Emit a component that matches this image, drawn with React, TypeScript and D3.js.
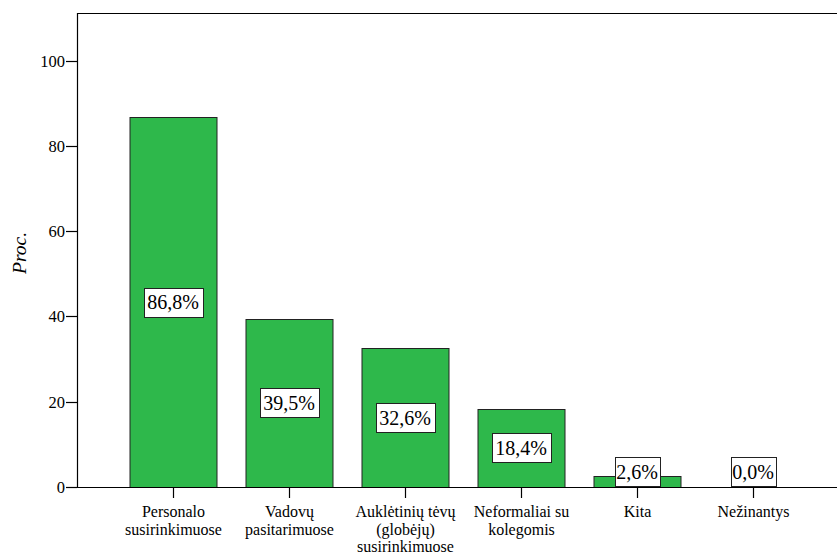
import React from "react";
import * as d3 from "d3";

const categories: string[][] = [
  ["Personalo", "susirinkimuose"],
  ["Vadovų", "pasitarimuose"],
  ["Auklėtinių tėvų", "(globėjų)", "susirinkimuose"],
  ["Neformaliai su", "kolegomis"],
  ["Kita"],
  ["Nežinantys"],
];
const values: number[] = [86.8, 39.5, 32.6, 18.4, 2.6, 0.0];
const yTicks: number[] = [0, 20, 40, 60, 80, 100];
const yTitle = "Proc.";

const W = 837;
const H = 554;
const left = 77;
const top = 13;
const bottom = 487;
const FONT = "'Times New Roman', 'Liberation Serif', Tinos, 'DejaVu Serif', serif";

export default function App() {
  const keys = categories.map((c) => c.join(" "));
  const x = d3
    .scaleBand<string>()
    .domain(keys)
    .range([115, 811])
    .paddingInner(0.25)
    .paddingOuter(0.125);
  const y = d3.scaleLinear().domain([0, 111.2]).range([bottom, top]);
  const boxH = 29;
  const ts: React.CSSProperties = { fontFamily: FONT, fontWeight: 400, fontStyle: "normal" };

  return (
    <svg
      width={W}
      height={H}
      style={{ position: "absolute", left: 0, top: 0, background: "#fff" }}
    >
      <rect x={0} y={0} width={W} height={H} fill="#fff" />
      {values.map((v, i) => {
        const k = keys[i];
        const x0 = x(k)!;
        const yv = y(v);
        return (
          <rect
            key={k}
            x={x0 + 0.5}
            y={Math.round(yv) + 0.5}
            width={x.bandwidth()}
            height={Math.max(0, bottom - Math.round(yv))}
            fill="#2eb84b"
            stroke="#222"
            strokeWidth={1}
          />
        );
      })}
      <line x1={left} x2={W + 20} y1={top + 0.5} y2={top + 0.5} stroke="#000" strokeWidth={1.2} />
      <line x1={left + 0.5} x2={left + 0.5} y1={top} y2={bottom} stroke="#000" strokeWidth={1.2} />
      <line x1={left} x2={W + 20} y1={bottom + 0.5} y2={bottom + 0.5} stroke="#000" strokeWidth={1.2} />
      {yTicks.map((t) => (
        <g key={t}>
          <line x1={left - 11} x2={left} y1={Math.round(y(t)) + 0.5} y2={Math.round(y(t)) + 0.5} stroke="#000" strokeWidth={1.2} />
          <text
            x={left - 12}
            y={y(t)}
            dy="0.35em"
            textAnchor="end"
            fontSize={16.5}
            fill="#000"
            style={ts}
          >
            {t}
          </text>
        </g>
      ))}
      <text
        transform={`translate(26,${253}) rotate(-90)`}
        textAnchor="middle"
        fontSize={19.5}
        fill="#000"
        style={{ ...ts, fontStyle: "italic" }}
      >
        {yTitle}
      </text>
      {categories.map((lines, i) => {
        const cx = Math.round(x(keys[i])! + x.bandwidth() / 2) + 0.5;
        return (
          <g key={keys[i]}>
            <line x1={cx} x2={cx} y1={bottom} y2={bottom + 11} stroke="#000" strokeWidth={1.2} />
            <text textAnchor="middle" fontSize={16} fill="#000" style={ts}>
              {lines.map((l, j) => (
                <tspan key={j} x={cx} y={bottom + 30 + j * 17.5}>
                  {l}
                </tspan>
              ))}
            </text>
          </g>
        );
      })}
      {values.map((v, i) => {
        const cx = x(keys[i])! + x.bandwidth() / 2;
        const label = v.toFixed(1).replace(".", ",") + "%";
        let cy = (y(v) + bottom) / 2;
        if (cy + boxH / 2 > bottom - 1) cy = bottom - 1 - boxH / 2;
        const bwidth = label.length <= 4 ? 45 : 59;
        return (
          <g key={"l" + i}>
            <rect
              x={Math.round(cx - bwidth / 2) + 0.5}
              y={Math.round(cy - boxH / 2) + 0.5}
              width={bwidth}
              height={boxH}
              fill="#fff"
              stroke="#222"
              strokeWidth={1}
            />
            <text x={cx} y={cy} dy="0.35em" textAnchor="middle" fontSize={20} fill="#000" style={ts}>
              {label}
            </text>
          </g>
        );
      })}
    </svg>
  );
}
